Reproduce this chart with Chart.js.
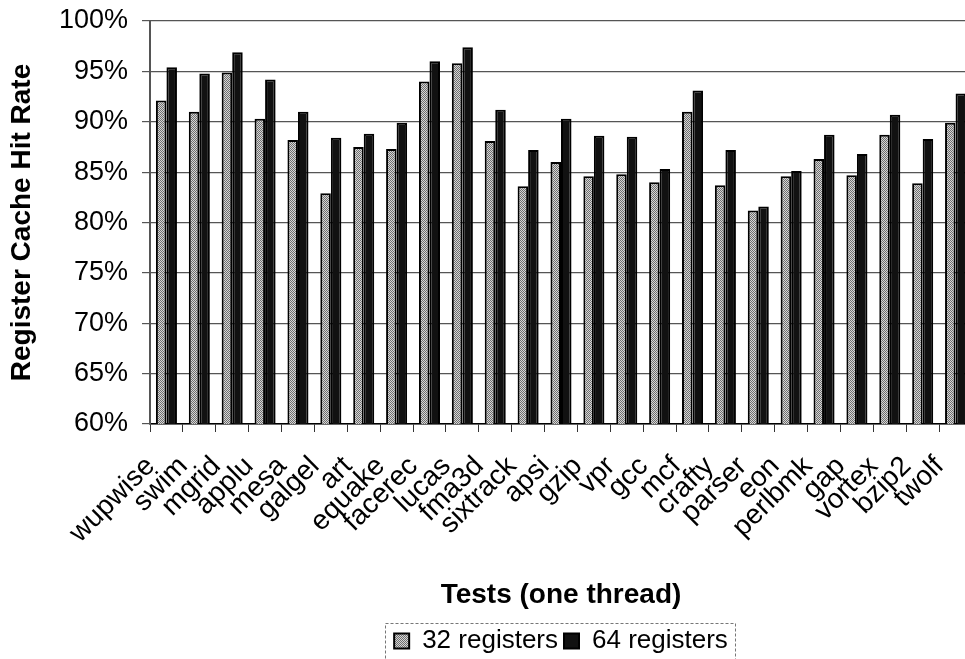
<!DOCTYPE html>
<html>
<head>
<meta charset="utf-8">
<script src="https://cdn.jsdelivr.net/npm/chart.js@4.4.1/dist/chart.umd.min.js"></script>
<style>
html,body{margin:0;padding:0;background:#fff;overflow:hidden;width:965px;height:659px}
#wrap{position:absolute;left:0;top:0;width:980px;height:659px}
</style>
</head>
<body>
<div id="wrap"><canvas id="c"></canvas></div>
<script>
const categories = ['wupwise','swim','mgrid','applu','mesa','galgel','art','equake','facerec','lucas','fma3d','sixtrack','apsi','gzip','vpr','gcc','mcf','crafty','parser','eon','perlbmk','gap','vortex','bzip2','twolf'];
const regs32 = [92.1, 91.0, 94.9, 90.3, 88.2, 82.9, 87.5, 87.3, 94.0, 95.8, 88.1, 83.6, 86.0, 84.6, 84.8, 84.0, 91.0, 83.7, 81.2, 84.6, 86.3, 84.7, 88.7, 83.9, 89.9];
const regs64 = [95.4, 94.8, 96.9, 94.2, 91.0, 88.4, 88.8, 89.9, 96.0, 97.4, 91.2, 87.2, 90.3, 88.6, 88.5, 85.3, 93.1, 87.2, 81.6, 85.1, 88.7, 86.8, 90.7, 88.3, 92.8];
const seriesNames = ['32 registers', '64 registers'];
const yTicks = [60, 65, 70, 75, 80, 85, 90, 95, 100];
const yTitle = 'Register Cache Hit Rate';
const xTitle = 'Tests (one thread)';

const FONT = "'Liberation Sans', Arial, Helvetica, sans-serif";
const canvas = document.getElementById('c');
const ctx = canvas.getContext('2d');

function stipple() {
  const p = document.createElement('canvas');
  p.width = 2; p.height = 2;
  const g = p.getContext('2d');
  g.fillStyle = '#d6d6d6'; g.fillRect(0, 0, 2, 2);
  g.fillStyle = '#6e6e6e'; g.fillRect(0, 0, 1, 1); g.fillRect(1, 1, 1, 1);
  return ctx.createPattern(p, 'repeat');
}

const legendBox = {
  id: 'legendBox',
  afterDraw(chart) {
    const lg = chart.legend;
    if (!lg || !lg.legendHitBoxes || !lg.legendHitBoxes.length) return;
    const hb = lg.legendHitBoxes;
    let l = Infinity, r = -Infinity;
    hb.forEach(h => { l = Math.min(l, h.left); r = Math.max(r, h.left + h.width); });
    const c = chart.ctx;
    c.save();
    c.strokeStyle = '#777';
    c.lineWidth = 1;
    c.setLineDash([3, 2]);
    c.strokeRect(Math.round(l - 9) + 0.5, Math.round(lg.top + 1) + 0.5, Math.round(r - l + 16), 60);
    c.restore();
  }
};

new Chart(ctx, {
  type: 'bar',
  data: {
    labels: categories,
    datasets: [
      { label: seriesNames[0], data: regs32, backgroundColor: stipple(), borderColor: '#000', borderWidth: 2, categoryPercentage: 0.64, barPercentage: 1.0 },
      { label: seriesNames[1], data: regs64, backgroundColor: '#111', borderColor: '#000', borderWidth: 2, categoryPercentage: 0.64, barPercentage: 1.0 }
    ]
  },
  options: {
    responsive: true,
    maintainAspectRatio: false,
    animation: false,
    layout: { padding: { left: 0, right: 8, top: 21, bottom: -5 } },
    plugins: {
      tooltip: { enabled: false },
      legend: {
        position: 'bottom',
        fullSize: false,
        labels: {
          color: '#000',
          font: { family: FONT, size: 26 },
          boxWidth: 15,
          boxHeight: 15,
          padding: 6
        }
      }
    },
    scales: {
      x: {
        grid: { display: true, drawOnChartArea: false, drawTicks: true, tickLength: 8, tickColor: '#333', offset: true },
        border: { display: true, color: '#000', width: 1.5 },
        ticks: {
          autoSkip: false, maxRotation: 45, minRotation: 45,
          color: '#000', font: { family: FONT, size: 28 },
          padding: 18, labelOffset: -16
        },
        title: { display: true, text: xTitle, color: '#000', font: { family: FONT, size: 28, weight: 'bold' }, padding: { top: 4, bottom: 10 } },
        afterFit(scale) { scale.height = 198; scale.paddingLeft = 0; scale.paddingRight = 0; }
      },
      y: {
        min: yTicks[0],
        max: yTicks[yTicks.length - 1],
        afterBuildTicks(scale) { scale.ticks = yTicks.map(v => ({ value: v })); },
        grid: { color: '#555', lineWidth: 1.2, drawTicks: true, tickLength: 8, tickColor: '#555' },
        border: { display: true, color: '#555', width: 2 },
        ticks: {
          color: '#000', font: { family: FONT, size: 27 }, padding: 14,
          callback: v => v + '%'
        },
        title: { display: true, text: yTitle, color: '#000', font: { family: FONT, size: 28, weight: 'bold' }, padding: { top: 5, bottom: 0 } },
        afterFit(scale) { scale.width = 150; scale.paddingTop = 0; scale.paddingBottom = 0; }
      }
    }
  },
  plugins: [legendBox]
});
</script>
</body>
</html>
